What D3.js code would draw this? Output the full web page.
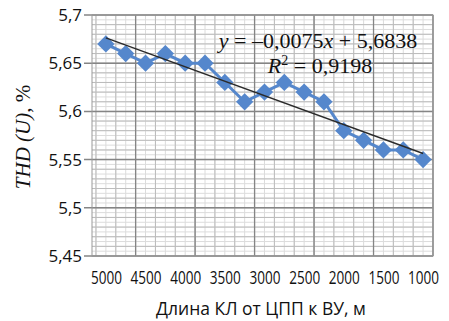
<!DOCTYPE html>
<html>
<head>
<meta charset="utf-8">
<script src="https://cdn.jsdelivr.net/npm/d3@7"></script>
<style>
  body { margin: 0; background: #fff; }
</style>
</head>
<body>
<div id="chart"></div>
<script>
// cable length, m (x axis runs 5000 -> 1000)
const lengths = [5000, 4750, 4500, 4250, 4000, 3750, 3500, 3250, 3000, 2750, 2500, 2250, 2000, 1750, 1500, 1250, 1000];
const thd = [5.67, 5.66, 5.65, 5.66, 5.65, 5.65, 5.63, 5.61, 5.62, 5.63, 5.62, 5.61, 5.58, 5.57, 5.56, 5.56, 5.55];
const xTicks = [5000, 4500, 4000, 3500, 3000, 2500, 2000, 1500, 1000];
const yTicks = [5.45, 5.5, 5.55, 5.6, 5.65, 5.7];
// Excel linear trend (x = point number 1..n)
const trendSlope = -0.0075;
const trendIntercept = 5.6838;

const width = 449, height = 321;
const margin = { top: 15, right: 16, bottom: 65, left: 92 };
const w = width - margin.left - margin.right;
const h = height - margin.top - margin.bottom;

const svg = d3.select("#chart").append("svg")
  .attr("width", width)
  .attr("height", height);

const g = svg.append("g")
  .attr("transform", "translate(" + margin.left + "," + margin.top + ")");

const x = d3.scaleLinear().domain([5175, 875]).range([0, w]);
const y = d3.scaleLinear().domain([5.45, 5.7]).range([h, 0]);

// grid: light minor, medium, dark major
const vMinor = d3.range(875, 5175, 125);
const vMid = d3.range(875, 5175, 250);
const vMajor = d3.range(875, 5175, 750);
const hMinor = d3.range(5.45, 5.7001, 0.005);
const hMid = d3.range(5.45, 5.7001, 0.01);

g.append("g").selectAll("line").data(vMinor).enter().append("line")
  .attr("x1", d => x(d)).attr("x2", d => x(d)).attr("y1", 0).attr("y2", h)
  .attr("stroke", "#dcdcdc").attr("stroke-width", 1);
g.append("g").selectAll("line").data(hMinor).enter().append("line")
  .attr("y1", d => y(d)).attr("y2", d => y(d)).attr("x1", 0).attr("x2", w)
  .attr("stroke", "#dcdcdc").attr("stroke-width", 1);
g.append("g").selectAll("line").data(vMid).enter().append("line")
  .attr("x1", d => x(d)).attr("x2", d => x(d)).attr("y1", 0).attr("y2", h)
  .attr("stroke", "#bcbcbc").attr("stroke-width", 1);
g.append("g").selectAll("line").data(hMid).enter().append("line")
  .attr("y1", d => y(d)).attr("y2", d => y(d)).attr("x1", 0).attr("x2", w)
  .attr("stroke", "#bcbcbc").attr("stroke-width", 1);
g.append("g").selectAll("line").data(vMajor).enter().append("line")
  .attr("x1", d => x(d)).attr("x2", d => x(d)).attr("y1", 0).attr("y2", h)
  .attr("stroke", "#858585").attr("stroke-width", 1.3);
g.append("g").selectAll("line").data(yTicks).enter().append("line")
  .attr("y1", d => y(d)).attr("y2", d => y(d)).attr("x1", -8).attr("x2", w)
  .attr("stroke", "#858585").attr("stroke-width", 1.5);

// frame
g.append("rect").attr("width", w).attr("height", h)
  .attr("fill", "none").attr("stroke", "#999").attr("stroke-width", 1);

// y axis labels
g.append("g")
  .call(d3.axisLeft(y).tickValues(yTicks).tickSize(0).tickPadding(10)
    .tickFormat(d => d3.format(".2~f")(d).replace(".", ",")))
  .call(a => a.select(".domain").remove())
  .selectAll("text")
  .attr("font-family", "Open Sans, sans-serif")
  .attr("font-size", 17)
  .attr("fill", "#111");

// x axis labels (narrow face)
g.append("g")
  .attr("transform", "translate(0," + h + ")")
  .call(d3.axisBottom(x).tickValues(xTicks).tickSize(0).tickPadding(15))
  .call(a => a.select(".domain").remove())
  .selectAll("text")
  .text(d => d)
  .attr("font-family", "Open Sans, sans-serif")
  .attr("font-size", 18)
  .attr("textLength", 31)
  .attr("lengthAdjust", "spacingAndGlyphs")
  .attr("fill", "#111");

// series line + diamonds
const data = lengths.map((l, i) => ({ l: l, v: thd[i] }));
const blue = "#5587cc";

g.append("path").datum(data)
  .attr("fill", "none").attr("stroke", blue).attr("stroke-width", 3)
  .attr("d", d3.line().x(d => x(d.l)).y(d => y(d.v)));

g.selectAll(".pt").data(data).enter().append("path")
  .attr("class", "pt")
  .attr("transform", d => "translate(" + x(d.l) + "," + y(d.v) + ")")
  .attr("d", d3.symbol().type(d3.symbolDiamond2).size(190))
  .attr("fill", blue);

// trend line
const n = lengths.length;
const trend = [
  { l: lengths[0], v: trendSlope * 1 + trendIntercept },
  { l: lengths[n - 1], v: trendSlope * n + trendIntercept }
];
g.append("path").datum(trend)
  .attr("fill", "none").attr("stroke", "#2b2b2b").attr("stroke-width", 1.4)
  .attr("d", d3.line().x(d => x(d.l)).y(d => y(d.v)));

// equation
const fmt = v => String(v).replace(".", ",");
const eq = svg.append("text")
  .attr("x", 318).attr("y", 48)
  .attr("text-anchor", "middle")
  .attr("font-family", "Liberation Serif, serif")
  .attr("font-size", 22)
  .attr("fill", "#111");
eq.append("tspan").attr("font-style", "italic").text("y");
eq.append("tspan").text(" = \u2013" + fmt(Math.abs(trendSlope)));
eq.append("tspan").attr("font-style", "italic").text("x");
eq.append("tspan").text(" + " + fmt(trendIntercept));

const r2 = svg.append("text")
  .attr("x", 320).attr("y", 73)
  .attr("text-anchor", "middle")
  .attr("font-family", "Liberation Serif, serif")
  .attr("font-size", 22)
  .attr("fill", "#111");
r2.append("tspan").attr("font-style", "italic").text("R");
r2.append("tspan").attr("font-size", 14).attr("dy", -8).text("2");
r2.append("tspan").attr("dy", 8).text(" = 0,9198");

// axis titles
svg.append("text")
  .attr("x", 261).attr("y", 315)
  .attr("text-anchor", "middle")
  .attr("font-family", "Open Sans, sans-serif")
  .attr("font-size", 17.5)
  .attr("fill", "#111")
  .text("Длина КЛ от ЦПП к ВУ, м");

const yt = svg.append("text")
  .attr("transform", "translate(30,137) rotate(-90)")
  .attr("text-anchor", "middle")
  .attr("font-family", "Liberation Serif, serif")
  .attr("font-size", 21)
  .attr("fill", "#111");
yt.append("tspan").attr("font-style", "italic").text("THD (U)");
yt.append("tspan").text(", %");
</script>
</body>
</html>
